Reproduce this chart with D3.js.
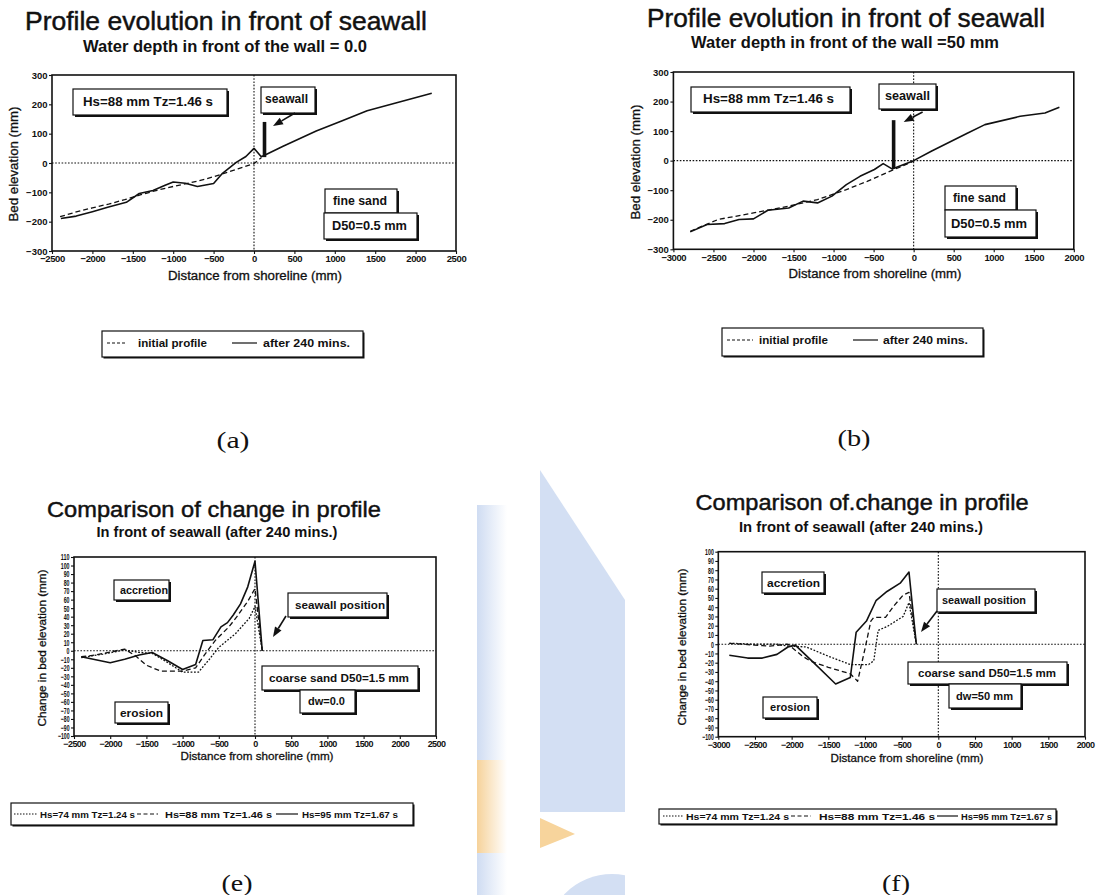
<!DOCTYPE html>
<html><head><meta charset="utf-8">
<script src="https://cdn.jsdelivr.net/npm/d3@7"></script>
<style>
html,body{margin:0;padding:0;background:#fff;}
svg{display:block;}
text{font-family:"Liberation Sans",Arial,Helvetica,sans-serif;fill:#111;}
</style></head><body>
<svg id="fig" width="1098" height="895"></svg>
<script>
// ---------- tick values ----------
const elevTicks = [-300, -200, -100, 0, 100, 200, 300];
const distTicksA = [-2500, -2000, -1500, -1000, -500, 0, 500, 1000, 1500, 2000, 2500];
const distTicksB = [-3000, -2500, -2000, -1500, -1000, -500, 0, 500, 1000, 1500, 2000];
const changeTicksE = [-100, -90, -80, -70, -60, -50, -40, -30, -20, -10, 0, 10, 20, 30, 40, 50, 60, 70, 80, 90, 100, 110];
const changeTicksF = [-100, -90, -80, -70, -60, -50, -40, -30, -20, -10, 0, 10, 20, 30, 40, 50, 60, 70, 80, 90, 100];

// ---------- (a) bed profile, water depth at wall = 0 ----------
// [distance from shoreline (mm), bed elevation (mm)]
const initialA = [[-2400,-183],[-2200,-167],[-2000,-153],[-1800,-140],[-1600,-125],[-1400,-108],[-1200,-93],[-1000,-80],[-800,-68],[-600,-55],[-400,-38],[-200,-20],[0,-2],[90,18]];
const after240A = [[-2390,-189],[-2200,-181],[-2000,-166],[-1800,-150],[-1580,-134],[-1420,-104],[-1250,-94],[-1100,-76],[-1000,-65],[-850,-69],[-700,-80],[-500,-70],[-390,-35],[-220,2],[-100,22],[0,50],[90,21],[150,29],[360,57],[770,109],[1100,145],[1400,178],[1800,208],[2200,238]];
const seawallA = [130, 20, 140];   // position, toe, crest (mm)

// ---------- (b) bed profile, water depth at wall = 50 mm ----------
const initialB = [[-2790,-239],[-2440,-199],[-2000,-177],[-1560,-154],[-1200,-132],[-840,-98],[-580,-70],[-270,-33],[0,-2]];
const after240B = [[-2790,-241],[-2580,-216],[-2360,-213],[-2180,-199],[-2000,-197],[-1820,-168],[-1560,-160],[-1380,-137],[-1200,-143],[-1020,-120],[-840,-81],[-670,-53],[-490,-30],[-380,-10],[-270,-28],[0,0],[220,32],[670,93],[890,122],[1330,150],[1640,161],[1820,181]];
const seawallB = [-250, -26, 137];

// ---------- (e) change in bed elevation, dw = 0.0 ----------
const hs74E = [[-2400,-8],[-2100,-4],[-1800,1],[-1600,-2],[-1420,-3],[-1280,-10],[-1000,-25],[-780,-25],[-640,-11],[-500,4],[-270,20],[-80,38],[0,52],[100,0]];
const hs88E = [[-2400,-7],[-2200,-5],[-1800,2],[-1650,-6],[-1500,-17],[-1300,-24],[-1000,-24],[-820,-20],[-690,-4],[-550,12],[-360,28],[-250,40],[-100,58],[0,73],[100,0]];
const hs95E = [[-2400,-7],[-2000,-14],[-1800,-10],[-1600,-5],[-1420,-2],[-1200,-12],[-1000,-22],[-820,-16],[-720,12],[-580,13],[-470,28],[-380,33],[-300,42],[-200,55],[-100,75],[0,105],[100,0]];

// ---------- (f) change in bed elevation, dw = 50 mm ----------
const hs74F = [[-2850,1],[-2500,0],[-2200,0],[-2050,-2],[-1800,-3],[-1500,-13],[-1200,-22],[-950,-22],[-880,-18],[-820,15],[-700,19],[-600,24],[-480,30],[-400,45],[-300,0]];
const hs88F = [[-2850,1],[-2500,-1],[-2300,-2],[-2050,0],[-1850,-13],[-1750,-18],[-1500,-25],[-1200,-32],[-1100,-40],[-1000,-5],[-920,25],[-880,29],[-720,29],[-600,42],[-480,53],[-400,56],[-300,0]];
const hs95F = [[-2850,-12],[-2600,-15],[-2400,-15],[-2200,-11],[-2050,-3],[-1950,-1],[-1700,-20],[-1400,-43],[-1200,-36],[-1120,13],[-980,25],[-850,47],[-700,57],[-520,66],[-400,78],[-300,0]];

const waveLabels = ["Hs=74 mm  Tz=1.24 s", "Hs=88 mm  Tz=1.46 s", "Hs=95 mm  Tz=1.67 s"];

// ---------- helpers ----------
const svg = d3.select('#fig');
const INK = '#111';

function addText(g, s, x, y, o = {}) {
  const t = g.append('text').attr('x', x).attr('y', y).text(s)
    .attr('font-size', o.size || 12)
    .attr('text-anchor', o.anchor || 'start');
  if (o.weight) t.attr('font-weight', o.weight);
  if (o.family) t.style('font-family', o.family);
  if (o.width) t.attr('textLength', o.width).attr('lengthAdjust', 'spacingAndGlyphs');
  if (o.rotate) t.attr('transform', `rotate(${o.rotate},${x},${y})`);
  if (o.heavy) t.attr('stroke', INK).attr('stroke-width', o.heavy);
  return t;
}

function shadowBox(g, b) {
  const [x0, y0, x1, y1] = b;
  g.append('rect').attr('x', x0 + 2).attr('y', y0 + 2).attr('width', x1 - x0).attr('height', y1 - y0).attr('fill', INK);
  g.append('rect').attr('x', x0).attr('y', y0).attr('width', x1 - x0).attr('height', y1 - y0)
    .attr('fill', '#fff').attr('stroke', INK).attr('stroke-width', 1.2);
}

function arrow(g, from, to) {
  const dx = to[0] - from[0], dy = to[1] - from[1];
  const L = Math.hypot(dx, dy), ux = dx / L, uy = dy / L;
  const hl = 10, hw = 3.8;
  const bx = to[0] - ux * hl, by = to[1] - uy * hl;
  g.append('line').attr('x1', from[0]).attr('y1', from[1]).attr('x2', bx).attr('y2', by)
    .attr('stroke', INK).attr('stroke-width', 1.6);
  g.append('path').attr('fill', INK)
    .attr('d', `M${to[0]},${to[1]}L${bx - uy * hw},${by + ux * hw}L${bx + uy * hw},${by - ux * hw}Z`);
}

function legendSample(g, x0, x1, y, dash, w) {
  g.append('line').attr('x1', x0).attr('x2', x1).attr('y1', y).attr('y2', y)
    .attr('stroke', INK).attr('stroke-width', w || 1.2).attr('stroke-dasharray', dash || null);
}

function panel(c) {
  const g = svg.append('g');
  const [L, T, R, B] = c.box;
  const x = d3.scaleLinear().domain(c.xDomain).range([L, R]);
  const y = d3.scaleLinear().domain(c.yDomain).range([B, T]);

  // titles
  addText(g, c.title, c.titlePos[0], c.titlePos[1], { size: c.titleSize, anchor: 'middle', width: c.titlePos[2], heavy: 0.45 });
  addText(g, c.subtitle, c.subPos[0], c.subPos[1], { size: c.subSize, anchor: 'middle', width: c.subPos[2], weight: 'bold' });

  // axes
  const ya = g.append('g').attr('transform', `translate(${L},0)`)
    .call(d3.axisLeft(y).tickValues(c.yTicks).tickSize(3).tickPadding(1.5).tickFormat(d3.format('d')));
  const xa = g.append('g').attr('transform', `translate(0,${B})`)
    .call(d3.axisBottom(x).tickValues(c.xTicks).tickSize(3).tickPadding(1.5).tickFormat(d3.format('d')));
  [ya, xa].forEach(a => {
    a.select('.domain').remove();
    a.selectAll('line').attr('stroke', INK).attr('stroke-width', 1.1);
    a.selectAll('text').attr('fill', INK).attr('font-weight', 'bold').style('font-family', '"Liberation Sans",Arial,sans-serif');
  });
  ya.selectAll('text').attr('font-size', c.yTickSize);
  xa.selectAll('text').attr('font-size', c.xTickSize).attr('letter-spacing', c.xTickSpacing || 0);
  if (c.yTickCompress) {
    ya.selectAll('text').each(function (d) {
      const s = String(d);
      d3.select(this).attr('textLength', s.length * c.yTickCompress).attr('lengthAdjust', 'spacingAndGlyphs');
    });
  }

  // frame and reference lines
  g.append('rect').attr('x', L).attr('y', T).attr('width', R - L).attr('height', B - T)
    .attr('fill', 'none').attr('stroke', INK).attr('stroke-width', 1.6);
  g.append('line').attr('x1', L).attr('x2', R).attr('y1', y(0)).attr('y2', y(0))
    .attr('stroke', INK).attr('stroke-width', 1.1).attr('stroke-dasharray', '1.6,1.6');
  g.append('line').attr('x1', x(0)).attr('x2', x(0)).attr('y1', T).attr('y2', B)
    .attr('stroke', INK).attr('stroke-width', 1.1).attr('stroke-dasharray', '1.6,1.6');

  // axis titles
  addText(g, c.yLabel, c.yLabelPos[0], c.yLabelPos[1], { size: c.labelSize, anchor: 'middle', width: c.yLabelPos[2], rotate: -90, heavy: 0.3 });
  addText(g, c.xLabel, c.xLabelPos[0], c.xLabelPos[1], { size: c.labelSize, anchor: 'middle', width: c.xLabelPos[2], heavy: 0.3 });

  // data lines
  const line = d3.line().x(d => x(d[0])).y(d => y(d[1]));
  c.series.forEach(s => {
    g.append('path').datum(s.data).attr('d', line).attr('fill', 'none')
      .attr('stroke', INK).attr('stroke-width', s.width || 1.4)
      .attr('stroke-dasharray', s.dash || null).attr('stroke-linejoin', 'round');
  });

  // seawall
  if (c.seawall) {
    const [sx, s0, s1] = c.seawall;
    g.append('line').attr('x1', x(sx)).attr('x2', x(sx)).attr('y1', y(s0)).attr('y2', y(s1))
      .attr('stroke', INK).attr('stroke-width', 3.6);
  }

  // annotation boxes
  c.notes.forEach(n => {
    shadowBox(g, n.box);
    addText(g, n.text, n.tx, n.ty, { size: n.size || 12, width: n.w, weight: 'bold' });
  });
  arrow(g, c.arrow[0], c.arrow[1]);

  // legend
  const lg = g.append('g');
  const lb = c.legend.box;
  lg.append('rect').attr('x', lb[0] + 1.5).attr('y', lb[1] + 1.5).attr('width', lb[2] - lb[0]).attr('height', lb[3] - lb[1]).attr('fill', INK);
  lg.append('rect').attr('x', lb[0]).attr('y', lb[1]).attr('width', lb[2] - lb[0]).attr('height', lb[3] - lb[1])
    .attr('fill', '#fff').attr('stroke', INK).attr('stroke-width', 1.2);
  c.legend.items.forEach(it => {
    legendSample(lg, it.s0, it.s1, c.legend.lineY, it.dash, it.lw);
    addText(lg, it.text, it.tx, c.legend.textY, { size: c.legend.size, width: it.w, weight: 'bold' });
  });

  // panel caption
  addText(g, c.caption, c.captionPos[0], c.captionPos[1],
    { size: 24, anchor: 'middle', family: '"Liberation Serif","DejaVu Serif",serif', width: c.captionPos[2] });
}

// ---------- faint watermark shapes between the lower panels ----------
const wm = svg.append('g');
const defs = wm.append('defs');
defs.append('clipPath').attr('id', 'wmclip').append('rect').attr('x', 477).attr('y', 440).attr('width', 148).attr('height', 455);
const fade = (id, color) => {
  const gr = defs.append('linearGradient').attr('id', id).attr('x1', 0).attr('x2', 1).attr('y1', 0).attr('y2', 0);
  gr.append('stop').attr('offset', '0%').attr('stop-color', color);
  gr.append('stop').attr('offset', '100%').attr('stop-color', '#ffffff');
};
fade('wmBlue', '#cfdcf2');
fade('wmOrange', '#f6d29a');
const wmg = wm.append('g').attr('clip-path', 'url(#wmclip)');
wmg.append('rect').attr('x', 477).attr('y', 505).attr('width', 30).attr('height', 255).attr('fill', 'url(#wmBlue)');
wmg.append('rect').attr('x', 477).attr('y', 760).attr('width', 30).attr('height', 93).attr('fill', 'url(#wmOrange)');
wmg.append('rect').attr('x', 477).attr('y', 853).attr('width', 30).attr('height', 42).attr('fill', 'url(#wmBlue)');
wmg.append('path').attr('d', 'M540,470L625,600L625,812L540,812Z').attr('fill', '#d3dff3');
wmg.append('path').attr('d', 'M540,818L575,834L540,848Z').attr('fill', '#f7d49c');
wmg.append('circle').attr('cx', 612).attr('cy', 940).attr('r', 66).attr('fill', '#d3dff3');

// ---------- panels ----------
const profileCommon = {
  title: 'Profile evolution in front of seawall', titleSize: 25, subSize: 16,
  yDomain: [-300, 300], yTicks: elevTicks, yTickSize: 9.5, xTickSize: 9.5, xTickSpacing: -0.4,
  yLabel: 'Bed elevation (mm)', xLabel: 'Distance from shoreline (mm)', labelSize: 12.5
};

panel(Object.assign({}, profileCommon, {
  box: [52, 75, 456, 251], xDomain: [-2500, 2500], xTicks: distTicksA,
  titlePos: [226, 30, 402], subtitle: 'Water depth in front of the wall = 0.0', subPos: [225, 52, 284],
  yLabelPos: [18, 164, 115], xLabelPos: [255, 280, 174],
  series: [{ data: initialA, dash: '5,3', width: 1.3 }, { data: after240A, width: 1.6 }],
  seawall: seawallA,
  notes: [
    { box: [73, 89, 227, 115], text: 'Hs=88 mm  Tz=1.46 s', tx: 83, ty: 106, w: 130 },
    { box: [261, 87, 315, 113], text: 'seawall', tx: 265, ty: 103, w: 43 },
    { box: [325, 189, 397, 213], text: 'fine sand', tx: 333, ty: 205, w: 54 },
    { box: [324, 213, 417, 239], text: 'D50=0.5 mm', tx: 332, ty: 230, w: 75 }
  ],
  arrow: [[295, 113], [273, 126]],
  legend: { box: [102, 331, 363, 357], lineY: 343, textY: 347, size: 11,
    items: [{ s0: 107, s1: 127, dash: '3,2', text: 'initial profile', tx: 138, w: 69 },
            { s0: 232, s1: 257, text: 'after 240 mins.', tx: 263, w: 87 }] },
  caption: '(a)', captionPos: [233, 448, 33]
}));

panel(Object.assign({}, profileCommon, {
  box: [673.4, 72, 1073.8, 249.3], xDomain: [-3000, 2000], xTicks: distTicksB,
  titlePos: [846, 27, 398], subtitle: 'Water depth in front of the wall =50 mm', subPos: [845, 48, 308],
  yLabelPos: [640, 162, 115], xLabelPos: [875, 278, 173],
  series: [{ data: initialB, dash: '5,3', width: 1.3 }, { data: after240B, width: 1.6 }],
  seawall: seawallB,
  notes: [
    { box: [691, 87, 850, 112], text: 'Hs=88 mm  Tz=1.46 s', tx: 703, ty: 103, w: 131 },
    { box: [879, 84, 936, 109], text: 'seawall', tx: 885, ty: 100, w: 45 },
    { box: [945, 186, 1016, 210], text: 'fine sand', tx: 953, ty: 202, w: 53 },
    { box: [945, 210, 1036, 237], text: 'D50=0.5 mm', tx: 951, ty: 228, w: 76 }
  ],
  arrow: [[922.6, 112], [903.7, 122]],
  legend: { box: [722, 328, 983, 356], lineY: 340, textY: 344, size: 11,
    items: [{ s0: 727, s1: 753, dash: '3,2', text: 'initial profile', tx: 759, w: 69 },
            { s0: 853, s1: 878, text: 'after 240 mins.', tx: 883, w: 85 }] },
  caption: '(b)', captionPos: [854, 446, 33]
}));

const changeCommon = {
  title: 'Comparison of change in profile', titleSize: 22, subSize: 14.5,
  subtitle: 'In front of seawall (after 240 mins.)',
  yTickSize: 9, yTickCompress: 2.9, xTickSize: 9, xTickSpacing: -0.6,
  yLabel: 'Change in bed elevation (mm)', xLabel: 'Distance from shoreline (mm)', labelSize: 11.5
};

panel(Object.assign({}, changeCommon, {
  box: [74, 557, 436, 736], xDomain: [-2500, 2500], xTicks: distTicksA,
  yDomain: [-100, 110], yTicks: changeTicksE,
  titlePos: [214, 517, 334], subPos: [217, 537, 241],
  yLabelPos: [46, 648, 157], xLabelPos: [257, 760, 153],
  series: [{ data: hs74E, dash: '1.8,1.6', width: 1.3 }, { data: hs88E, dash: '5,3', width: 1.3 }, { data: hs95E, width: 1.6 }],
  notes: [
    { box: [114, 580, 169, 600], text: 'accretion', tx: 120, ty: 594, w: 48, size: 11 },
    { box: [288, 593, 387, 617], text: 'seawall position', tx: 295, ty: 609, w: 90, size: 11 },
    { box: [262, 666, 418, 690], text: 'coarse sand  D50=1.5 mm', tx: 269, ty: 682, w: 140, size: 11 },
    { box: [300, 690, 355, 713], text: 'dw=0.0', tx: 308, ty: 705, w: 37, size: 11 },
    { box: [115, 702, 168, 723], text: 'erosion', tx: 120, ty: 717, w: 43, size: 11 }
  ],
  arrow: [[286, 616], [273, 637]],
  legend: { box: [11, 803, 413, 825], lineY: 814, textY: 818, size: 9.5,
    items: [{ s0: 14, s1: 37, dash: '1.5,1.5', text: waveLabels[0], tx: 40, w: 95 },
            { s0: 137, s1: 158, dash: '4,2.5', text: waveLabels[1], tx: 165, w: 107 },
            { s0: 276, s1: 298, text: waveLabels[2], tx: 302, w: 96 }] },
  caption: '(e)', captionPos: [237, 891, 31]
}));

panel(Object.assign({}, changeCommon, {
  title: 'Comparison of.change in profile',
  box: [718.3, 551.7, 1085, 736.7], xDomain: [-3000, 2000], xTicks: distTicksB,
  yDomain: [-100, 100], yTicks: changeTicksF,
  titlePos: [862, 510, 333], subPos: [861, 532, 244],
  yLabelPos: [686, 647, 157], xLabelPos: [907, 762, 153],
  series: [{ data: hs74F, dash: '1.8,1.6', width: 1.3 }, { data: hs88F, dash: '5,3', width: 1.3 }, { data: hs95F, width: 1.6 }],
  notes: [
    { box: [762, 572, 824, 593], text: 'accretion', tx: 767, ty: 587, w: 53, size: 11 },
    { box: [937, 589, 1035, 612], text: 'seawall position', tx: 942, ty: 604, w: 84, size: 11 },
    { box: [908, 662, 1067, 684], text: 'coarse sand  D50=1.5 mm', tx: 918, ty: 677, w: 138, size: 11 },
    { box: [949, 684, 1021, 708], text: 'dw=50 mm', tx: 956, ty: 700, w: 57, size: 11 },
    { box: [763, 697, 817, 718], text: 'erosion', tx: 770, ty: 711, w: 40, size: 11 }
  ],
  arrow: [[937, 611], [921, 632]],
  legend: { box: [659, 809, 1056, 824], lineY: 816, textY: 820, size: 9.5,
    items: [{ s0: 663, s1: 683, dash: '1.5,1.5', text: waveLabels[0], tx: 686, w: 103 },
            { s0: 791, s1: 811, dash: '4,2.5', text: waveLabels[1], tx: 819, w: 116 },
            { s0: 937, s1: 958, text: waveLabels[2], tx: 961, w: 91 }] },
  caption: '(f)', captionPos: [896, 891, 28]
}));
</script>
</body></html>
